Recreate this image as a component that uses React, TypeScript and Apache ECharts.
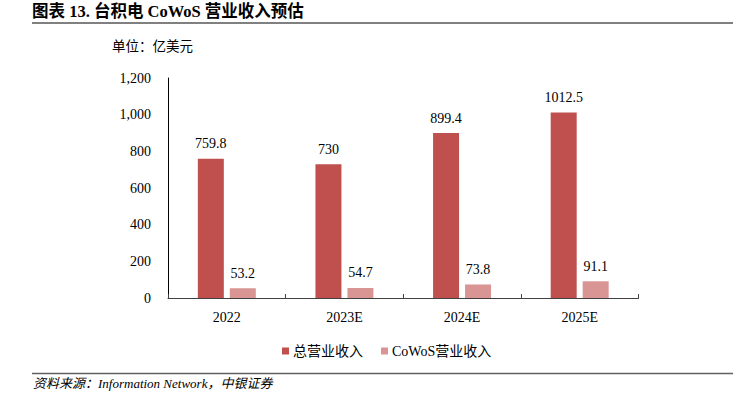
import React, { useEffect, useRef } from "react";
import * as echarts from "echarts";

const categories = ["2022", "2023E", "2024E", "2025E"];
const totalRevenue = [759.8, 730, 899.4, 1012.5];
const cowosRevenue = [53.2, 54.7, 73.8, 91.1];
const seriesNames = ["总营业收入", "CoWoS营业收入"];

const SERIF = '"Liberation Serif", "Times New Roman", "Noto Sans CJK SC", serif';

export default function App() {
  const ref = useRef<HTMLDivElement>(null);
  useEffect(() => {
    if (!ref.current) return;
    const chart = echarts.init(ref.current, undefined, { renderer: "svg" });
    chart.setOption({
      animation: false,
      backgroundColor: "#fff",
      textStyle: { fontFamily: SERIF },
      grid: { left: 168, right: 103.5, top: 78, bottom: 101, containLabel: false },
      legend: {
        data: seriesNames,
        left: 277,
        top: 339,
        itemWidth: 7,
        itemHeight: 7,
        itemGap: 18,
        icon: "rect",
        textStyle: { fontFamily: SERIF, fontSize: 14, color: "#000", padding: [0, 0, 0, -1] },
      },
      xAxis: {
        type: "category",
        data: categories,
        axisLine: { lineStyle: { color: "#404040", width: 1 } },
        axisTick: { show: true, inside: true, length: 4, alignWithLabel: false, lineStyle: { color: "#404040" } },
        axisLabel: { fontFamily: SERIF, fontSize: 14, color: "#000", margin: 12 },
      },
      yAxis: {
        type: "value",
        min: 0,
        max: 1200,
        interval: 200,
        splitLine: { show: false },
        axisLine: { show: true, lineStyle: { color: "#000", width: 1 } },
        axisTick: { show: false },
        axisLabel: {
          fontFamily: SERIF,
          fontSize: 14,
          color: "#000",
          margin: 17,
          formatter: (v: number) => v.toLocaleString("en-US"),
        },
      },
      series: [
        {
          name: seriesNames[0],
          type: "bar",
          data: totalRevenue,
          barWidth: 26,
          barGap: "23%",
          itemStyle: { color: "#C0504D" },
          label: { show: true, position: "top", distance: 8, fontFamily: SERIF, fontSize: 14, color: "#000" },
        },
        {
          name: seriesNames[1],
          type: "bar",
          data: cowosRevenue,
          barWidth: 26,
          barGap: "23%",
          itemStyle: { color: "#D99594" },
          label: { show: true, position: "top", distance: 8, fontFamily: SERIF, fontSize: 14, color: "#000" },
        },
      ],
      graphic: [
        {
          type: "text",
          left: 32,
          top: 3,
          style: {
            text: "图表 13. 台积电 CoWoS 营业收入预估",
            fontFamily: SERIF,
            fontSize: 16.5,
            fontWeight: "bold",
            fill: "#000",
          },
        },
        {
          type: "line",
          shape: { x1: 32, y1: 23, x2: 733, y2: 23 },
          style: { stroke: "#808080", lineWidth: 2 },
        },
        {
          type: "text",
          left: 112,
          top: 40,
          style: { text: "单位：亿美元", fontFamily: SERIF, fontSize: 13.5, fill: "#000" },
        },
        {
          type: "line",
          shape: { x1: 32, y1: 373.5, x2: 733, y2: 373.5 },
          style: { stroke: "#606060", lineWidth: 1.5 },
        },
        {
          type: "text",
          left: 33,
          top: 377,
          style: {
            text: "资料来源：Information Network，中银证券",
            fontFamily: SERIF,
            fontSize: 13,
            fontStyle: "italic",
            fill: "#000",
          },
        },
      ],
    });
    return () => chart.dispose();
  }, []);
  return <div ref={ref} style={{ width: 742, height: 399, position: "absolute", left: 0, top: 0 }} />;
}
